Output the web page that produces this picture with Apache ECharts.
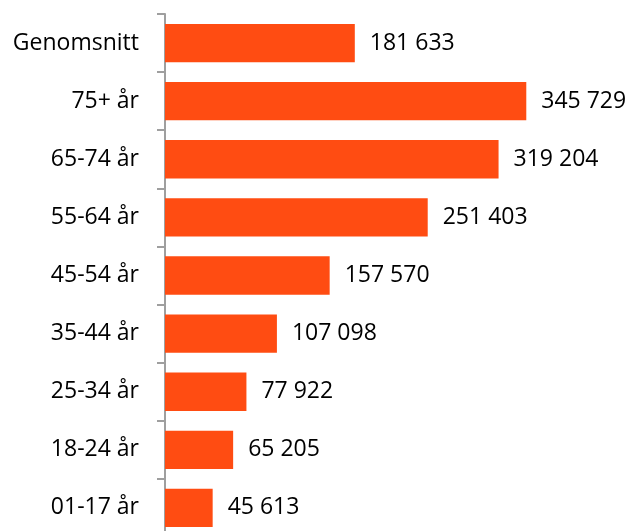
<!DOCTYPE html>
<html><head><meta charset="utf-8">
<script src="https://cdn.jsdelivr.net/npm/echarts@6/dist/echarts.min.js"></script>
<style>html,body{margin:0;padding:0;background:#fff}#c{width:644px;height:531px}</style>
</head><body><div id="c"></div>
<script>
const categories = ["Genomsnitt","75+ år","65-74 år","55-64 år","45-54 år","35-44 år","25-34 år","18-24 år","01-17 år"];
const values = [181633,345729,319204,251403,157570,107098,77922,65205,45613];

function fmt(v){return String(v).replace(/\B(?=(\d{3})+(?!\d))/g,' ');}

const chart = echarts.init(document.getElementById('c'), null, {renderer:'canvas'});
chart.setOption({
  animation:false,
  backgroundColor:'#ffffff',
  grid:{left:165, top:14, width:418, height:523, containLabel:false, outerBoundsMode:'none'},
  xAxis:{type:'value', min:0, max:400000, show:false},
  yAxis:{type:'category', data:categories, inverse:true,
    axisLine:{show:true, lineStyle:{color:'#9f9f9f', width:2}},
    axisTick:{show:true, length:8, lineStyle:{color:'#9f9f9f', width:2}},
    axisLabel:{margin:26, color:'#000', fontFamily:'Open Sans', fontSize:23}
  },
  series:[{type:'bar', data:values, barCategoryGap:'34%',
    itemStyle:{color:'#FF4C12'},
    label:{show:true, position:'right', distance:15, color:'#000', fontFamily:'Open Sans', fontSize:23,
      formatter:p=>fmt(p.value)}
  }]
});
</script></body></html>
